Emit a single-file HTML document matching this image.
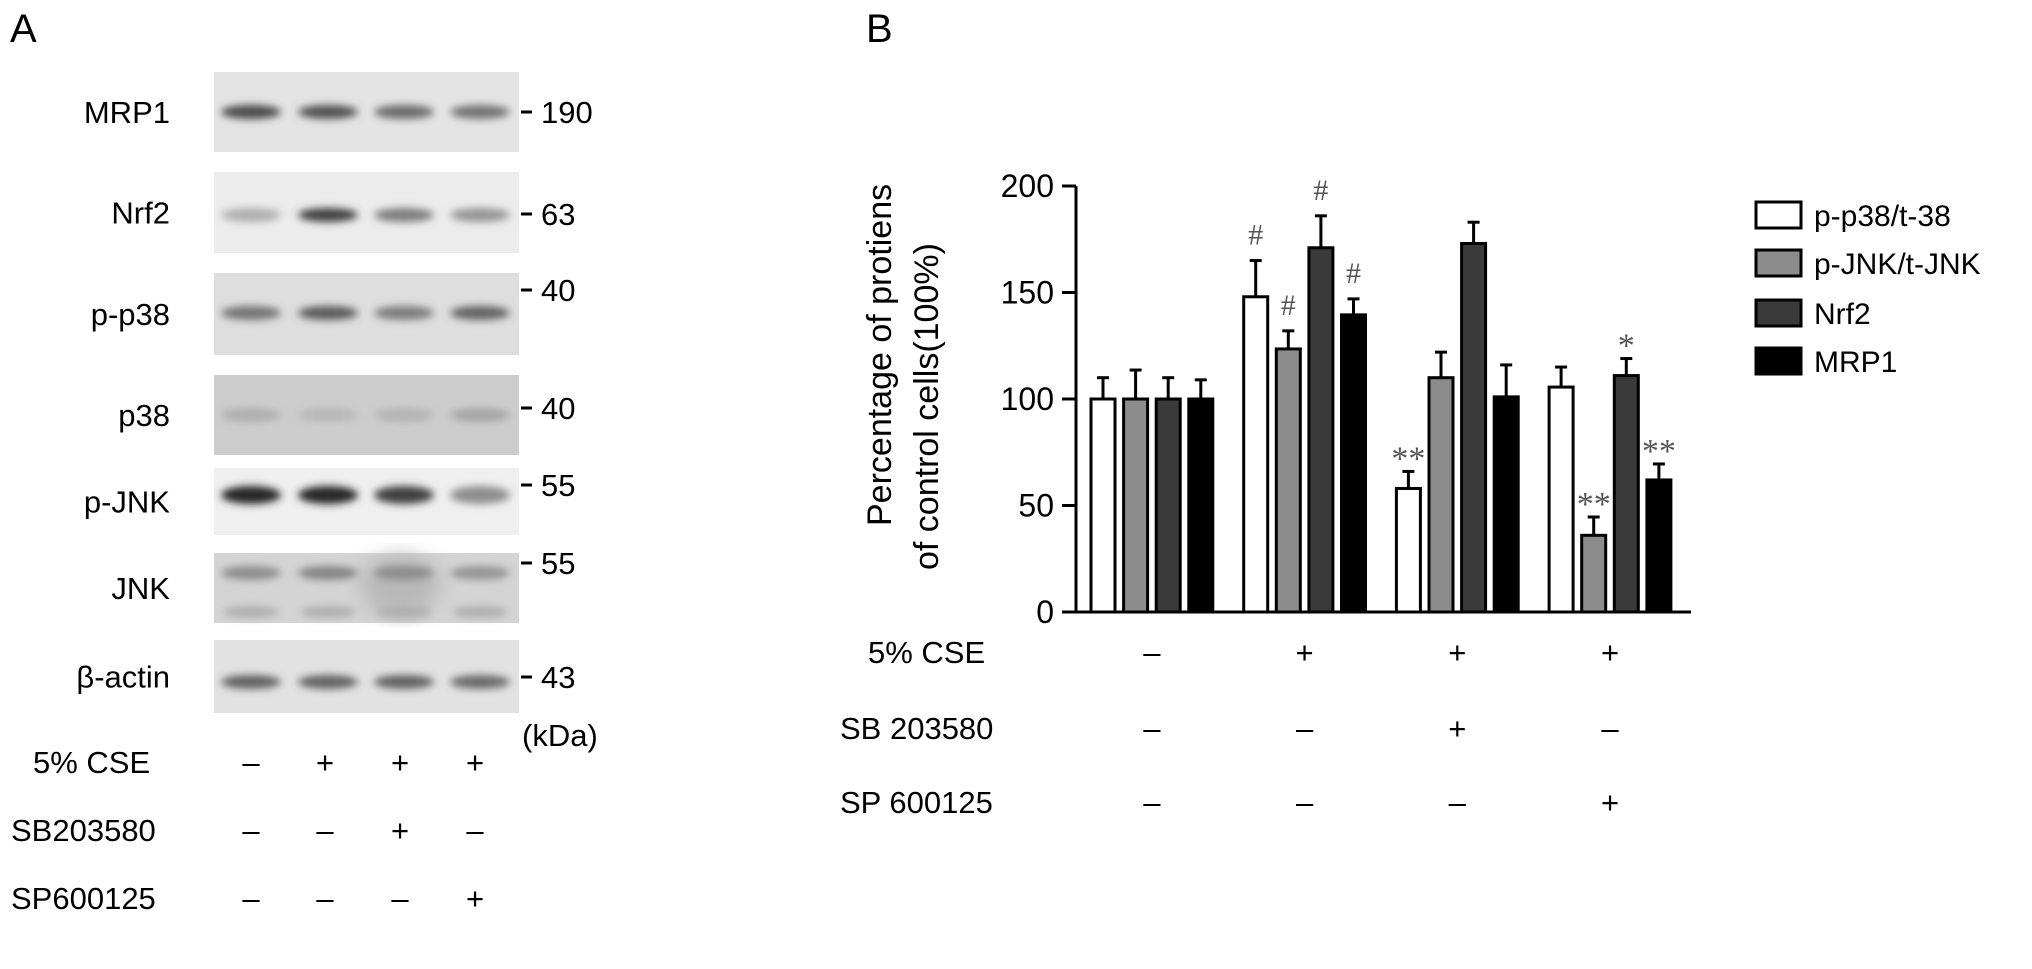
<!DOCTYPE html>
<html><head><meta charset="utf-8"><style>
html,body{margin:0;padding:0;background:#fff;}
svg{display:block;font-family:"Liberation Sans",Arial,sans-serif;}
</style></head><body>
<svg id="fig" width="2032" height="969" viewBox="0 0 2032 969" xmlns="http://www.w3.org/2000/svg">
<defs>
<filter id="blur" x="-50%" y="-200%" width="200%" height="500%"><feGaussianBlur stdDeviation="4"/></filter>
<filter id="blur2" x="-20%" y="-20%" width="140%" height="140%"><feGaussianBlur stdDeviation="10"/></filter>
</defs>
<text x="10" y="42" font-size="40">A</text>
<text x="866" y="42" font-size="40">B</text>
<g id="blots"></g>
<g id="chart"></g>
</svg>
<script>
var NS='http://www.w3.org/2000/svg';
function mk(tag,attrs,parent,txt){var e=document.createElementNS(NS,tag);for(var k in attrs)e.setAttribute(k,attrs[k]);if(txt!==undefined)e.textContent=txt;parent.appendChild(e);return e;}

// ---------- Panel A (western blots) ----------
var blotNames=['MRP1','Nrf2','p-p38','p38','p-JNK','JNK','β-actin'];
var blotKda=['190','63','40','40','55','55','43'];
var blotTop=[72,172,273,375,468,553,640];
var blotBot=[152,253,355,455,535,623,713];
var kdaY=[112,214,290,408,485,563,677];
var bandY=[112,215,313,415,495,573,682];
var bandDark=[[0.75,0.7,0.55,0.5],[0.15,0.8,0.45,0.3],[0.5,0.65,0.45,0.6],[0.15,0.1,0.12,0.2],[0.95,0.95,0.8,0.35],[0.35,0.4,0.35,0.3],[0.6,0.6,0.6,0.55]];
var blotBg=['#e4e4e4','#ececec','#dedede','#cdcdcd','#efefef','#d4d4d4','#e2e2e2'];
var laneX=[251,328,404,480];
var A=document.getElementById('blots');
blotNames.forEach(function(n,i){
  var g=mk('g',{},A);
  
  
  mk('rect',{x:214,y:blotTop[i],width:305,height:blotBot[i]-blotTop[i],fill:blotBg[i]},g);
  if(i==5){mk('ellipse',{cx:400,cy:585,rx:40,ry:30,fill:'#b8b8b8',filter:'url(#blur2)'},g);}
  laneX.forEach(function(x,j){
    var d=bandDark[i][j];var c=Math.round(200-170*d);
    var b=mk('ellipse',{cx:x,cy:bandY[i],rx:30,ry:(i==4?9:7),fill:'rgb('+c+','+c+','+c+')',filter:'url(#blur)'},g);
    
    
    if(i==5){mk('ellipse',{cx:x,cy:612,rx:28,ry:6,fill:'rgb(175,175,175)',filter:'url(#blur)'},g);}
  });
  var t=mk('text',{x:170,y:blotTop[i]+(blotBot[i]-blotTop[i])/2+11,'font-size':31,'text-anchor':'end'},g,n);
  
  
  mk('rect',{x:521,y:kdaY[i]-1.5,width:11,height:3,fill:'#000'},g);
  var k=mk('text',{x:541,y:kdaY[i]+11,'font-size':31},g,blotKda[i]);
  
  
});
var kd=mk('text',{x:522,y:746,'font-size':31},A,'(kDa)');


var condNamesA=['5% CSE','SB203580','SP600125'];
var condXA=[33,11,11];
var condYA=[762,830,898];
var condSigns=[['–','+','+','+'],['–','–','+','–'],['–','–','–','+']];
var laneSignX=[251,325,400,475];
condNamesA.forEach(function(n,r){
  var t=mk('text',{x:condXA[r],y:condYA[r]+11,'font-size':31},A,n);
  
  
  laneSignX.forEach(function(x,j){
    var s=mk('text',{x:x,y:condYA[r]+11,'font-size':31,'text-anchor':'middle'},A,condSigns[r][j]);
    
    
  });
});

// ---------- Panel B (bar chart) ----------
var seriesNames=['p-p38/t-38','p-JNK/t-JNK','Nrf2','MRP1'];
var seriesFill=['#ffffff','#8c8c8c','#3a3a3a','#000000'];
var valsPP38=[100,148,58,105.6];
var valsPJNK=[100,123.5,110,36];
var valsNrf2=[100,171,173,111];
var valsMRP1=[100,139.5,101,62];
var errPP38=[10,17,8,9.4];
var errPJNK=[13.6,8.5,12,8.6];
var errNrf2=[10,15,10,8];
var errMRP1=[9,7.5,15,7.5];
var sigPP38=['','#','**',''];
var sigPJNK=['','#','','**'];
var sigNrf2=['','#','','*'];
var sigMRP1=['','#','','**'];
var yTicks=[0,50,100,150,200];
var condNamesB=['5% CSE','SB 203580','SP 600125'];
var condSignsB=[['–','+','+','+'],['–','–','+','–'],['–','–','–','+']];

var vals=[valsPP38,valsPJNK,valsNrf2,valsMRP1];
var errs=[errPP38,errPJNK,errNrf2,errMRP1];
var sigs=[sigPP38,sigPJNK,sigNrf2,sigMRP1];
var C=document.getElementById('chart');
var y0=612,y200=186;
function yS(v){return y0-(y0-y200)*v/200;}
var axX=1076, gStart=1091, gPitch=152.7, bPitch=32.6, bW=24;
function xS(g,s){return gStart+g*gPitch+s*bPitch;}

yTicks.forEach(function(v){
  var t=mk('line',{x1:axX-14,x2:axX,y1:yS(v),y2:yS(v),stroke:'#000','stroke-width':3},C);
  
  
  var l=mk('text',{x:axX-22,y:yS(v)+11,'font-size':32,'text-anchor':'end'},C,String(v));
  
  
});
var ya=mk('line',{x1:axX,x2:axX,y1:y200,y2:y0+1.5,stroke:'#000','stroke-width':3},C);



vals.forEach(function(arr,s){
  arr.forEach(function(v,g){
    var x=xS(g,s), top=yS(v), et=yS(v+errs[s][g]);
    var e=mk('line',{x1:x+bW/2,x2:x+bW/2,y1:et,y2:top,stroke:'#000','stroke-width':3},C);
    
    
    var c=mk('line',{x1:x+bW/2-6,x2:x+bW/2+6,y1:et,y2:et,stroke:'#000','stroke-width':3},C);
    
    
    var b=mk('rect',{x:x,y:top,width:bW,height:y0-top,fill:seriesFill[s],stroke:'#000','stroke-width':3},C);
    
    
    if(sigs[s][g]){
      var isHash=sigs[s][g]=='#';
      var a=mk('text',{x:x+bW/2,y:et-(isHash?16:2),'font-size':isHash?30:34,'text-anchor':'middle',fill:'#555','font-family':'"Liberation Serif",serif'},C,sigs[s][g]);
      
      
    }
  });
});
var xa=mk('line',{x1:axX-1.5,x2:1691,y1:y0,y2:y0,stroke:'#000','stroke-width':3},C);



var yt=mk('text',{'font-size':34,transform:'translate(891,526) rotate(-90)'},C,'Percentage of protiens');


var yt2=mk('text',{'font-size':34,transform:'translate(938,570) rotate(-90)'},C,'of control cells(100%)');



var condXB=[868,840,840];
var condYB=[652,728,802];
condNamesB.forEach(function(n,r){
  var t=mk('text',{x:condXB[r],y:condYB[r]+11,'font-size':31},C,n);
  
  
  for(var g=0;g<4;g++){
    var s=mk('text',{x:xS(g,1.5)+bW/2,y:condYB[r]+11,'font-size':31,'text-anchor':'middle'},C,condSignsB[r][g]);
    
    
  }
});

var legY=[202,250,300,348];
seriesNames.forEach(function(n,s){
  var g=mk('g',{},C);
  
  
  mk('rect',{x:1756,y:legY[s],width:45,height:26,fill:seriesFill[s],stroke:'#000','stroke-width':3},g);
  mk('text',{x:1814,y:legY[s]+24,'font-size':30},g,n);
});
</script>
</body></html>
